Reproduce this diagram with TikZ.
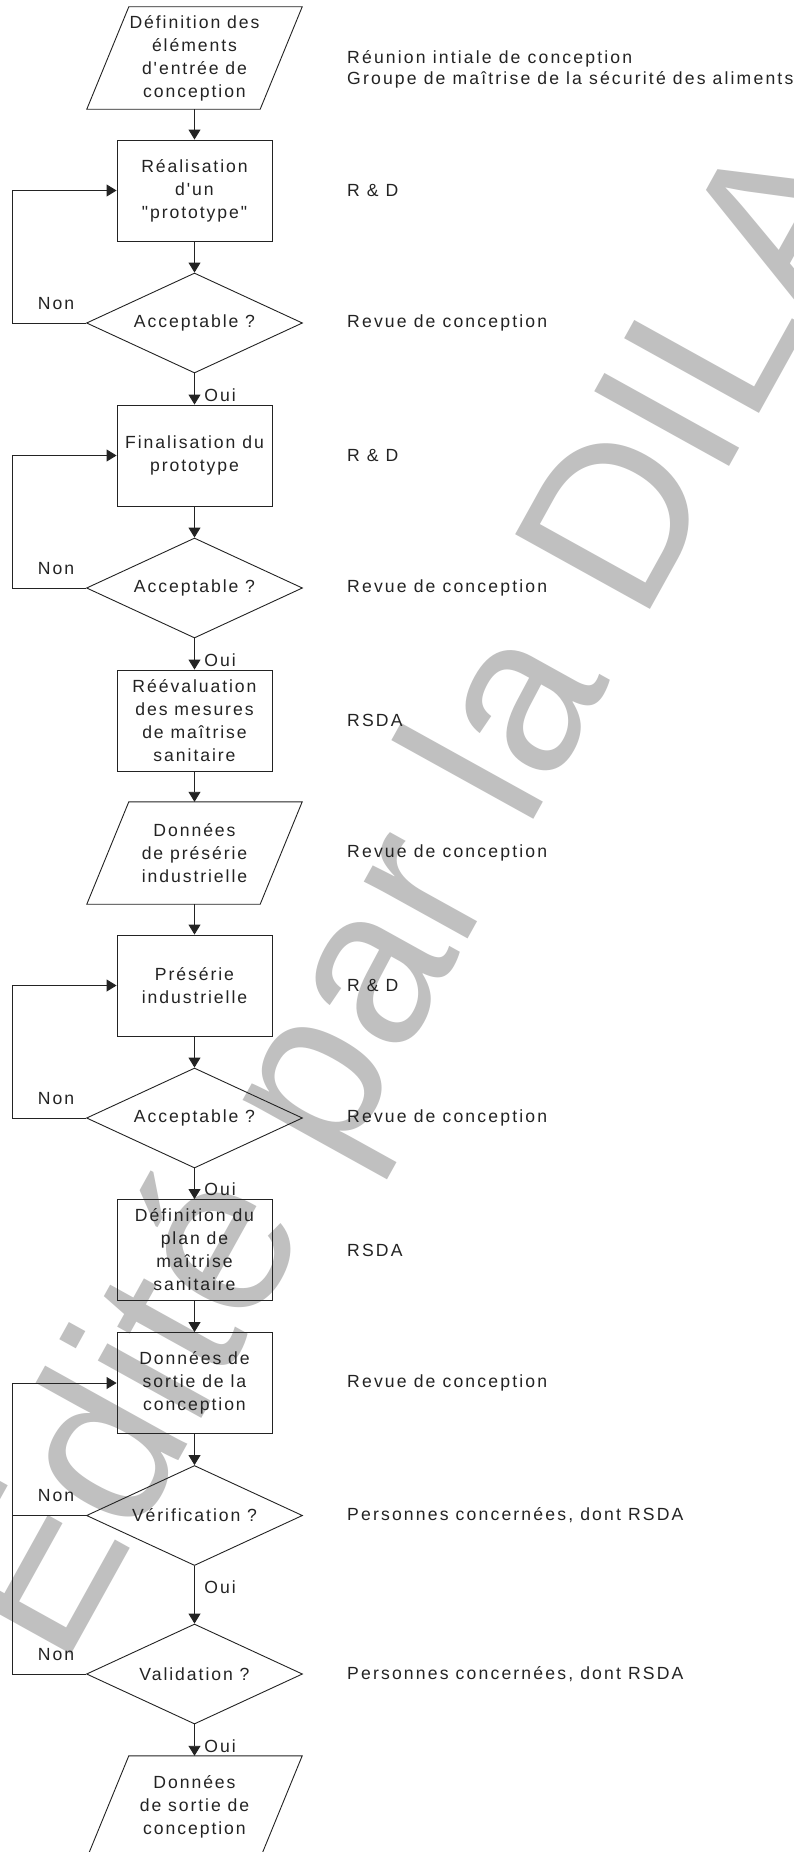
\documentclass[tikz,border=0pt]{standalone}
\usepackage{fontspec}
\newfontfamily\dfont{Liberation Sans}[LetterSpace=11,Ligatures=CommonOff]
\newfontfamily\lfont{Liberation Sans}[LetterSpace=12.3,Ligatures=CommonOff]
\newfontfamily\wfont{Liberation Sans}
\usetikzlibrary{arrows.meta,shapes.geometric,calc}
\definecolor{wm}{RGB}{192,192,192}
\definecolor{ink}{RGB}{35,35,35}
\begin{document}
\begin{tikzpicture}[x=1pt,y=-1pt,
  txt/.style={font={\dfont\fontsize{17.6}{23}\selectfont}, text=ink},
  box/.style={txt, draw=ink, line width=0.9pt, minimum width=155pt, minimum height=101pt, inner sep=0pt, align=center},
  dia/.style={txt, shape=diamond, aspect=2.16, draw=ink, line width=0.9pt, minimum width=216pt, minimum height=100pt, inner sep=0pt, align=center},
  para/.style={txt, minimum width=215pt, minimum height=102pt, inner sep=0pt, align=center},
  lab/.style={font={\lfont\fontsize{17.6}{20.7}\selectfont}, text=ink, inner sep=0pt, anchor=west, align=left},
  arr/.style={draw=ink, line width=0.9pt, -{Triangle[length=10pt,width=12pt]}},
  ln/.style={draw=ink, line width=0.9pt}
]
\useasboundingbox (0,0) rectangle (793,1852);
\fill[white] (0,0) rectangle (793,1852);
% watermark
\node[rotate=61, anchor=base west, text=wm, font={\wfont\fontsize{224}{224}\selectfont}, inner sep=0pt] (wmk) at (62,1671) {Édité par la DILA};

\newcommand\parashape[1]{\draw[ln] ($(#1.north west)+(42,0)$) -- (#1.north east) -- ($(#1.south east)+(-42,0)$) -- (#1.south west) -- cycle;}

\node[para] (p1) at (194.5,58) {Définition des\\éléments\\d'entrée de\\conception};
\parashape{p1}
\node[box] (b1) at (194.5,190.5) {Réalisation\\d'un\\"prototype"};
\node[dia] (d1) at (194.5,323) {Acceptable ?};
\node[box] (b2) at (194.5,455.5) {Finalisation du\\prototype};
\node[dia] (d2) at (194.5,588) {Acceptable ?};
\node[box] (b3) at (194.5,720.5) {Réévaluation\\des mesures\\de maîtrise\\sanitaire};
\node[para] (p2) at (194.5,853) {Données\\de présérie\\industrielle};
\parashape{p2}
\node[box] (b4) at (194.5,985.5) {Présérie\\industrielle};
\node[dia] (d3) at (194.5,1118) {Acceptable ?};
\node[box] (b5) at (194.5,1250) {Définition du\\plan de\\maîtrise\\sanitaire};
\node[box] (b6) at (194.5,1383) {Données de\\sortie de la\\conception};
\node[dia] (d4) at (194.5,1515.5) {Vérification ?};
\node[dia] (d5) at (194.5,1674) {Validation ?};
\node[para] (p3) at (194.5,1807) {Données\\de sortie de\\conception};
\parashape{p3}

\coordinate (lx) at (12,0);

\draw[arr] (p1) -- (b1);
\draw[arr] (b1) -- (d1);
\draw[arr] (d1) -- (b2) node[txt, pos=0.69, anchor=west, inner sep=0pt, xshift=9.5pt] (o1) {Oui};
\draw[arr] (b2) -- (d2);
\draw[arr] (d2) -- (b3) node[txt, pos=0.71, anchor=west, inner sep=0pt, xshift=9.5pt] (o2) {Oui};
\draw[arr] (b3) -- (p2);
\draw[arr] (p2) -- (b4);
\draw[arr] (b4) -- (d3);
\draw[arr] (d3) -- (b5) node[txt, pos=0.68, anchor=west, inner sep=0pt, xshift=9.5pt] (o3) {Oui};
\draw[arr] (b5) -- (b6);
\draw[arr] (b6) -- (d4);
\draw[arr] (d4) -- (d5) node[txt, pos=0.37, anchor=west, inner sep=0pt, xshift=9.5pt] (o4) {Oui};
\draw[arr] (d5) -- (p3) node[txt, pos=0.69, anchor=west, inner sep=0pt, xshift=9.5pt] (o5) {Oui};

\draw[arr] (d1.west) -- (d1.west -| lx) |- (b1.west);
\draw[arr] (d2.west) -- (d2.west -| lx) |- (b2.west);
\draw[arr] (d3.west) -- (d3.west -| lx) |- (b4.west);
\draw[arr] (d4.west) -- (d4.west -| lx) |- (b6.west);
\draw[ln] (d5.west) -- (d5.west -| lx) -- (d4.west -| lx);

\node[txt, inner sep=0pt] (n1) at (56,304) {Non};
\node[txt, inner sep=0pt] (n2) at (56,569) {Non};
\node[txt, inner sep=0pt] (n3) at (56,1099) {Non};
\node[txt, inner sep=0pt] (n4) at (56,1496) {Non};
\node[txt, inner sep=0pt] (n5) at (56,1655) {Non};

\node[lab] (r1) at (347,69.5) {Réunion intiale de conception\\Groupe de maîtrise de la sécurité des aliments};
\node[lab] (r2) at (347,190.5) {R \& D};
\node[lab] (r3) at (347,323) {Revue de conception};
\node[lab] (r4) at (347,455.5) {R \& D};
\node[lab] (r5) at (347,720.5) {RSDA};
\node[lab] (r6) at (347,588) {Revue de conception};
\node[lab] (r7) at (347,853) {Revue de conception};
\node[lab] (r8) at (347,985.5) {R \& D};
\node[lab] (r9) at (347,1118) {Revue de conception};
\node[lab] (r10) at (347,1250) {RSDA};
\node[lab] (r11) at (347,1383) {Revue de conception};
\node[lab] (r12) at (347,1515.5) {Personnes concernées, dont RSDA};
\node[lab] (r13) at (347,1674) {Personnes concernées, dont RSDA};
\end{tikzpicture}
\end{document}
